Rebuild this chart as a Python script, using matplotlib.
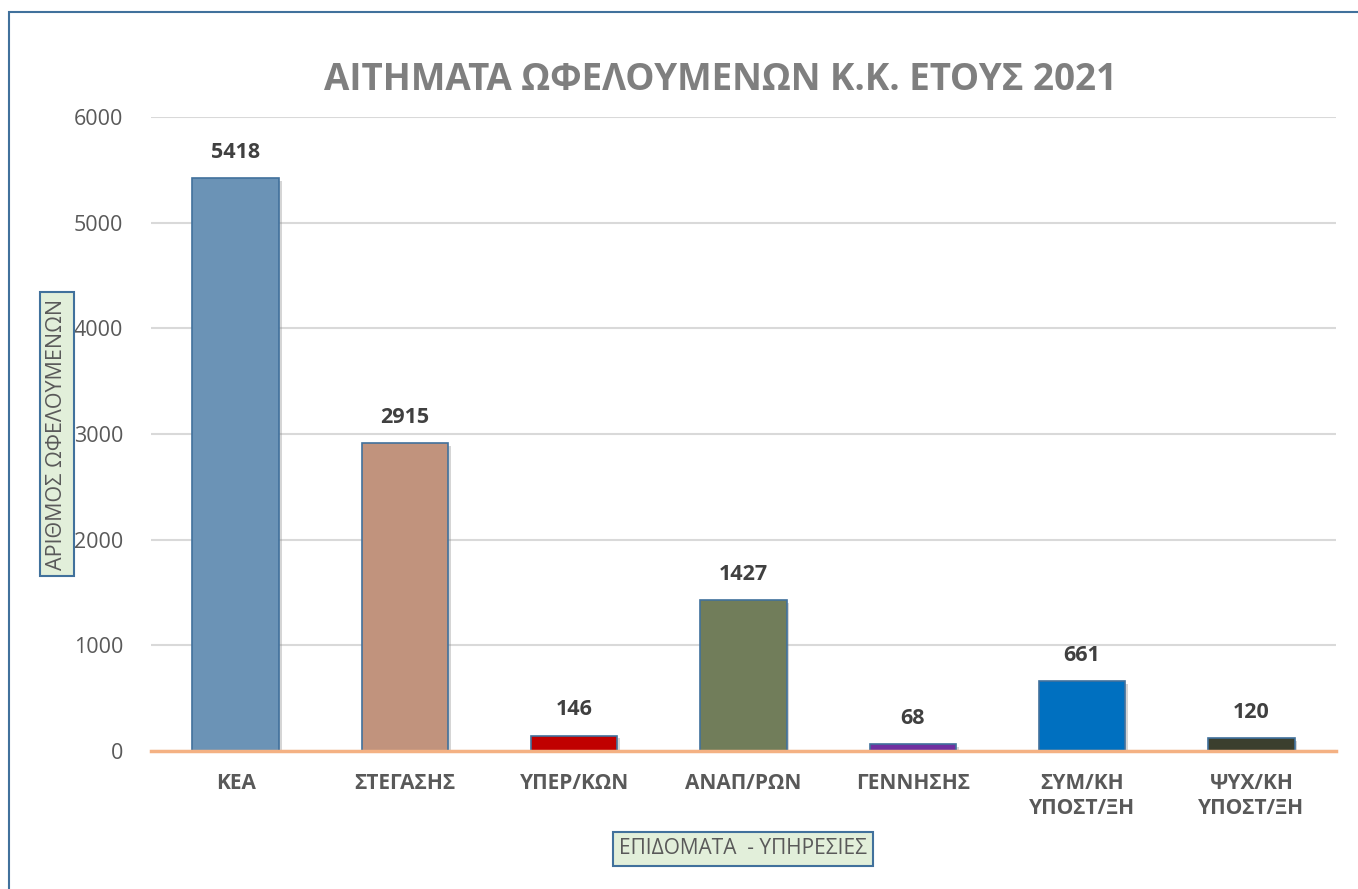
import matplotlib
matplotlib.use("Agg")
import matplotlib.pyplot as plt
from matplotlib.patches import Rectangle
import matplotlib.patheffects as pe

plt.rcParams['font.family'] = ['Open Sans', 'DejaVu Sans']

categories = ["ΚΕΑ", "ΣΤΕΓΑΣΗΣ", "ΥΠΕΡ/ΚΩΝ", "ΑΝΑΠ/ΡΩΝ", "ΓΕΝΝΗΣΗΣ",
              "ΣΥΜ/ΚΗ\nΥΠΟΣΤ/ΞΗ", "ΨΥΧ/ΚΗ\nΥΠΟΣΤ/ΞΗ"]
values = [5418, 2915, 146, 1427, 68, 661, 120]
bar_colors = ["#6B93B6", "#C1937D", "#C00000", "#717D5A", "#7030A0", "#0070C0", "#3B3F2E"]
yticks = [0, 1000, 2000, 3000, 4000, 5000, 6000]

title = "ΑΙΤΗΜΑΤΑ ΩΦΕΛΟΥΜΕΝΩΝ Κ.Κ. ΕΤΟΥΣ 2021"
ylabel = "ΑΡΙΘΜΟΣ ΩΦΕΛΟΥΜΕΝΩΝ"
xlabel = "ΕΠΙΔΟΜΑΤΑ  - ΥΠΗΡΕΣΙΕΣ"

W, H = 1358, 889
fig = plt.figure(figsize=(W / 100, H / 100), dpi=100)
fig.patch.set_facecolor("white")

# outer frame (left and top visible)
fig.patches.append(Rectangle((9 / W, -0.05), 1.1, 1 - 12 / H + 0.05,
                             transform=fig.transFigure, fill=False,
                             edgecolor="#41719C", linewidth=1.5, zorder=0))

ax = fig.add_axes([151 / W, 1 - 751 / H, (1336 - 151) / W, (751 - 117) / H])
x = range(len(categories))
bars = ax.bar(x, values, width=0.51, color=bar_colors, edgecolor="#41719C",
              linewidth=1.2, zorder=3)
for b in bars:
    b.set_path_effects([pe.SimplePatchShadow(offset=(2, -2), shadow_rgbFace="#888888", alpha=0.35),
                        pe.Normal()])

ax.set_xlim(-0.5, len(categories) - 0.5)
ax.set_ylim(0, 6000)
ax.set_yticks(yticks)
ax.set_yticklabels([str(t) for t in yticks], fontsize=15.5, color="#595959")
ax.set_xticks(list(x))
ax.set_xticklabels(categories, fontsize=15, fontweight="bold", color="#595959",
                   linespacing=1.25, va="top")
ax.tick_params(axis="both", length=0)
ax.tick_params(axis="x", pad=16)
ax.tick_params(axis="y", pad=20)
ax.grid(axis="y", color="#D9D9D9", linewidth=1.5, zorder=0)
for s in ["top", "right", "left"]:
    ax.spines[s].set_visible(False)
ax.spines["bottom"].set_color("#F4B183")
ax.spines["bottom"].set_linewidth(2.5)
ax.spines["bottom"].set_zorder(4)

for xi, v in zip(x, values):
    ax.annotate(str(v), (xi, v), xytext=(0, 11), textcoords="offset points",
                ha="center", va="bottom", fontsize=15.5, fontweight="bold",
                color="#404040")

fig.text(720 / W, 1 - 80 / H, title, ha="center", va="center", fontsize=26.5,
         fontweight="bold", color="#7F7F7F")

box = dict(boxstyle="square,pad=0.3", facecolor="#E2EFDA", edgecolor="#41719C", linewidth=1.5)
fig.text(57 / W, 1 - 434 / H, ylabel, rotation=90, ha="center", va="center",
         fontsize=15.5, color="#595959", bbox=box)
fig.text(743 / W, 1 - 849 / H, xlabel, ha="center", va="center",
         fontsize=15, color="#595959", bbox=box)

fig.savefig("out.png", dpi=100, facecolor="white")
